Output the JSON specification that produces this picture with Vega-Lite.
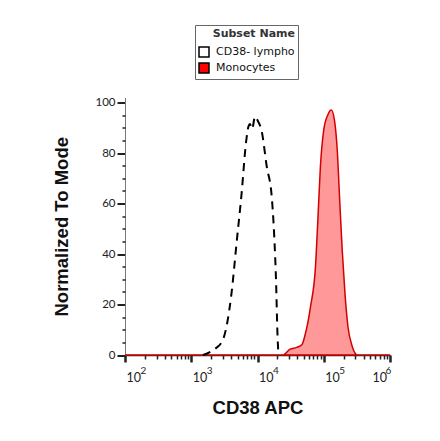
{
  "$schema": "https://vega.github.io/schema/vega-lite/v6.json",
  "autosize": "none",
  "width": 265,
  "height": 257.5,
  "padding": {"left": 125, "top": 97.5, "right": 50, "bottom": 86},
  "background": "white",
  "config": {
    "view": {"stroke": null},
    "axis": {"labelFont": "Lato", "labelColor": "#222", "labelFontSize": 11.5, "titleFont": "Liberation Sans", "titleFontSize": 18.5, "titleFontWeight": "bold", "titleColor": "#111", "grid": false, "domainColor": "#444", "tickColor": "#222"}
  },
  "data": {
    "values": [
      {"v": 100, "pct": 0, "subset": "Monocytes"},
      {"v": 24000, "pct": 0, "subset": "Monocytes"},
      {"v": 31000, "pct": 2.3, "subset": "Monocytes"},
      {"v": 39000, "pct": 3.0, "subset": "Monocytes"},
      {"v": 47000, "pct": 4.2, "subset": "Monocytes"},
      {"v": 53000, "pct": 8.6, "subset": "Monocytes"},
      {"v": 63000, "pct": 19, "subset": "Monocytes"},
      {"v": 75000, "pct": 35, "subset": "Monocytes"},
      {"v": 82000, "pct": 55, "subset": "Monocytes"},
      {"v": 89000, "pct": 74.6, "subset": "Monocytes"},
      {"v": 100000, "pct": 89.2, "subset": "Monocytes"},
      {"v": 115000, "pct": 95.1, "subset": "Monocytes"},
      {"v": 130000, "pct": 97, "subset": "Monocytes"},
      {"v": 145000, "pct": 93, "subset": "Monocytes"},
      {"v": 160000, "pct": 81, "subset": "Monocytes"},
      {"v": 174000, "pct": 61.4, "subset": "Monocytes"},
      {"v": 190000, "pct": 41.6, "subset": "Monocytes"},
      {"v": 209000, "pct": 24.4, "subset": "Monocytes"},
      {"v": 232000, "pct": 11.2, "subset": "Monocytes"},
      {"v": 270000, "pct": 3.3, "subset": "Monocytes"},
      {"v": 323000, "pct": 0, "subset": "Monocytes"},
      {"v": 1000000, "pct": 0, "subset": "Monocytes"},
      {"v": 1500, "pct": 0, "subset": "CD38- lympho"},
      {"v": 1800, "pct": 0.8, "subset": "CD38- lympho"},
      {"v": 2300, "pct": 2.5, "subset": "CD38- lympho"},
      {"v": 3000, "pct": 6, "subset": "CD38- lympho"},
      {"v": 4050, "pct": 24.4, "subset": "CD38- lympho"},
      {"v": 4830, "pct": 44.3, "subset": "CD38- lympho"},
      {"v": 5760, "pct": 64.1, "subset": "CD38- lympho"},
      {"v": 6690, "pct": 83.9, "subset": "CD38- lympho"},
      {"v": 7300, "pct": 90.5, "subset": "CD38- lympho"},
      {"v": 7700, "pct": 91.5, "subset": "CD38- lympho"},
      {"v": 8300, "pct": 89.5, "subset": "CD38- lympho"},
      {"v": 9170, "pct": 94.5, "subset": "CD38- lympho"},
      {"v": 10000, "pct": 93, "subset": "CD38- lympho"},
      {"v": 11600, "pct": 88.5, "subset": "CD38- lympho"},
      {"v": 13800, "pct": 74.6, "subset": "CD38- lympho"},
      {"v": 16400, "pct": 62.7, "subset": "CD38- lympho"},
      {"v": 17800, "pct": 48.2, "subset": "CD38- lympho"},
      {"v": 19100, "pct": 28.4, "subset": "CD38- lympho"},
      {"v": 20000, "pct": 8.6, "subset": "CD38- lympho"},
      {"v": 20700, "pct": 0.8, "subset": "CD38- lympho"},
      {"v": 21000, "pct": 0, "subset": "CD38- lympho"}
    ]
  },
  "resolve": {"axis": {"x": "independent", "y": "independent"}},
  "layer": [
    {
      "transform": [{"filter": "datum.subset === 'Monocytes'"}],
      "mark": {"type": "area", "interpolate": "monotone", "fillOpacity": 0.4, "stroke": "#d40000", "strokeWidth": 1.5},
      "encoding": {
        "x": {
          "field": "v", "type": "quantitative",
          "scale": {"type": "log", "domain": [100, 1000000], "nice": false},
          "axis": {
            "orient": "bottom", "title": "CD38 APC", "titlePadding": 15,
            "values": [100, 1000, 10000, 100000, 1000000],
            "labelExpr": "'10'",
            "labelFontSize": 12.5, "labelPadding": 9, "labelAlign": "left",
            "labelOffset": {"condition": {"test": "datum.value == 1000000", "value": -18}, "value": 1},
            "tickSize": 7, "tickWidth": 2.5, "domainWidth": 1.5, "domainColor": "#222"
          }
        },
        "y": {
          "field": "pct", "type": "quantitative",
          "scale": {"domain": [0, 102], "nice": false},
          "axis": {
            "orient": "left", "title": "Normalized To Mode", "titlePadding": 23,
            "values": [0, 20, 40, 60, 80, 100], "tickSize": 8, "tickWidth": 2, "labelPadding": 2, "domainColor": "#777"
          }
        },
        "fill": {
          "field": "subset", "type": "nominal",
          "scale": {"domain": ["CD38- lympho", "Monocytes"], "range": ["white", "#ff0000"]},
          "legend": {
            "title": "Subset Name", "orient": "none", "legendX": 70, "legendY": -72.5,
            "strokeColor": "#666", "padding": 3, "titlePadding": 7,
            "titleFont": "DejaVu Sans", "titleFontSize": 11, "titleFontWeight": "bold", "titleColor": "#333", "titleAnchor": "end",
            "labelFont": "DejaVu Sans", "labelFontSize": 11, "labelColor": "#111",
            "symbolType": "square", "symbolSize": 100, "symbolStrokeColor": "black", "symbolStrokeWidth": 1.5, "symbolOpacity": 1,
            "rowPadding": 0, "labelOffset": 6
          }
        }
      }
    },
    {
      "transform": [{"filter": "datum.subset === 'CD38- lympho'"}],
      "mark": {"type": "line", "interpolate": "monotone", "color": "black", "strokeWidth": 2, "strokeDash": [8, 6]},
      "encoding": {
        "x": {
          "field": "v", "type": "quantitative",
          "axis": {
            "orient": "bottom", "title": null, "labels": false, "domain": false, "tickSize": 4, "tickWidth": 1.5,
            "values": [200, 300, 400, 500, 600, 700, 800, 900, 2000, 3000, 4000, 5000, 6000, 7000, 8000, 9000, 20000, 30000, 40000, 50000, 60000, 70000, 80000, 90000, 200000, 300000, 400000, 500000, 600000, 700000, 800000, 900000]
          }
        },
        "y": {
          "field": "pct", "type": "quantitative",
          "axis": {
            "orient": "left", "title": null, "labels": false, "domain": false, "tickSize": 3, "tickWidth": 1.5,
            "values": [5, 10, 15, 25, 30, 35, 45, 50, 55, 65, 70, 75, 85, 90, 95]
          }
        }
      }
    },
    {
      "transform": [{"filter": "datum.subset === 'Monocytes'"}],
      "mark": {"type": "point", "opacity": 0},
      "encoding": {
        "x": {
          "field": "v", "type": "quantitative",
          "axis": {
            "orient": "bottom", "title": null, "domain": false, "ticks": false, "tickSize": 0,
            "values": [100, 1000, 10000, 100000, 1000000],
            "labelExpr": "'' + round(log(datum.value) / LN10)",
            "labelFontSize": 10, "labelPadding": 10, "labelAlign": "left",
            "labelOffset": {"condition": {"test": "datum.value == 1000000", "value": -5}, "value": 15}
          }
        },
        "y": {"field": "pct", "type": "quantitative", "axis": null}
      }
    }
  ]
}
